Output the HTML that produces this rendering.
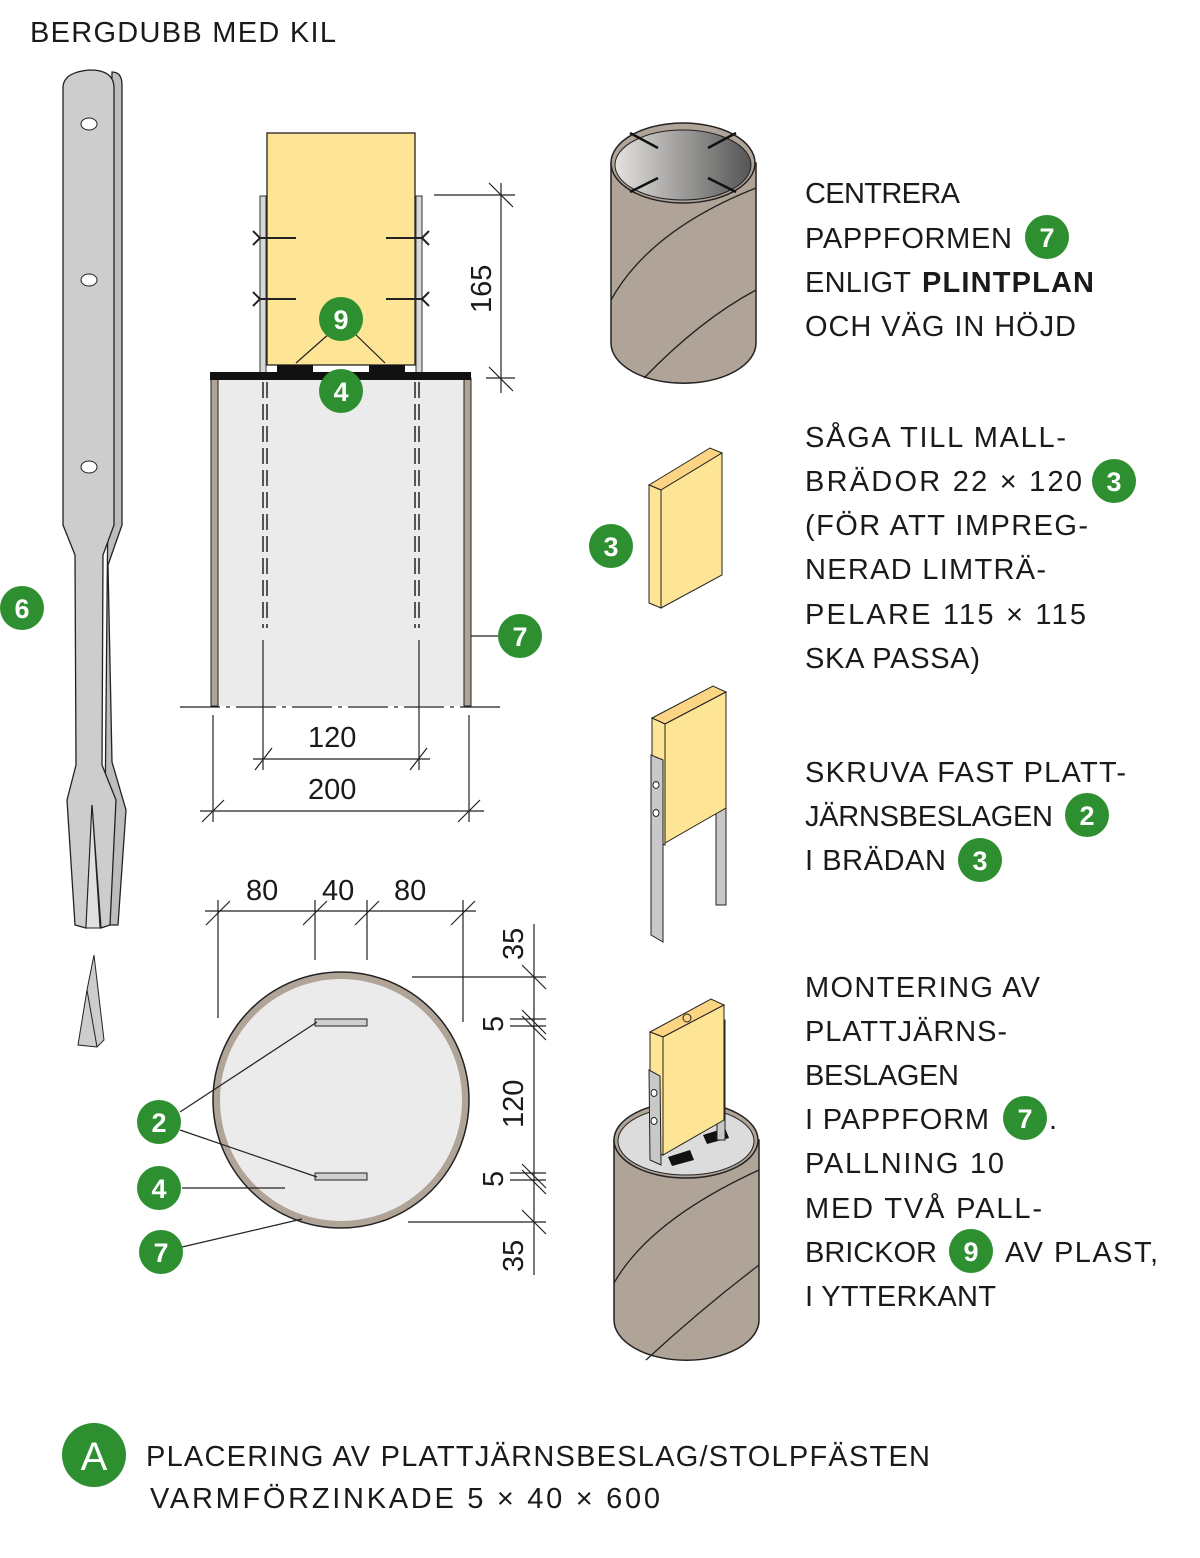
<!DOCTYPE html>
<html><head><meta charset="utf-8"><style>
body{margin:0;background:#fff}
svg{display:block}
text{font-family:"Liberation Sans","DejaVu Sans",sans-serif}
.t{font-size:29px;fill:#1a1a1a}
.d{font-size:29px;fill:#1a1a1a}
.g{fill:#2d8f2f}
.n{font-size:27px;fill:#fff;text-anchor:middle;font-weight:bold}
</style></head><body>
<svg width="1200" height="1558" viewBox="0 0 1200 1558" xmlns="http://www.w3.org/2000/svg">
<defs>
<linearGradient id="gr" x1="0" x2="1"><stop offset="0" stop-color="#e4e2df"/><stop offset="1" stop-color="#555"/></linearGradient>
</defs>
<text x="30" y="42" class="t" textLength="306" lengthAdjust="spacing">BERGDUBB MED KIL</text>

<!-- rock bolt -->
<path d="M112,72 Q122,72 122,85 L122,525 L108,565 L112,762 L126,810 L118,925 L104,925 Z" fill="#bdbdbd" stroke="#222" stroke-width="1.3"/>
<path d="M63,88 Q63,72 90,70 Q114,70 114,88 L114,525 L103,555 L102,765 L116,800 L110,925 L101,928 L92,805 L86,928 L75,925 L67,800 L76,765 L75,555 L63,525 Z" fill="#cdcdcd" stroke="#222" stroke-width="1.3"/>
<path d="M92,805 L100,928 L86,928 Z" fill="#e0e0e0" stroke="#222" stroke-width="1"/>
<ellipse cx="89" cy="124" rx="8" ry="6" fill="#fff" stroke="#222"/><ellipse cx="89" cy="280" rx="8" ry="6" fill="#fff" stroke="#222"/><ellipse cx="89" cy="467" rx="8" ry="6" fill="#fff" stroke="#222"/>
<path d="M78,1045 L87,990 L94,955 L104,1040 L97,1047 Z" fill="#cdcdcd" stroke="#222"/>
<path d="M87,990 L97,1047" stroke="#222"/>
<circle cx="22" cy="608" r="22" class="g"/><text x="22" y="618" class="n">6</text>

<!-- section view -->
<rect x="211" y="378" width="260" height="328" fill="#ebebeb"/>
<rect x="211" y="378" width="7" height="328" fill="#b0a498" stroke="#222"/>
<rect x="464" y="378" width="7" height="328" fill="#b0a498" stroke="#222"/>
<rect x="267" y="133" width="148" height="232" fill="#fde595" stroke="#222" stroke-width="1.3"/>
<rect x="260" y="196" width="6" height="182" fill="#d8d8d8" stroke="#333"/>
<rect x="416" y="196" width="6" height="182" fill="#d8d8d8" stroke="#333"/>
<rect x="210" y="372" width="261" height="8" fill="#111"/>
<rect x="277" y="365" width="36" height="8" fill="#111"/><rect x="369" y="365" width="36" height="8" fill="#111"/>
<g stroke="#222" stroke-width="2" fill="none">
<line x1="260" y1="238" x2="296" y2="238"/><line x1="260" y1="299" x2="296" y2="299"/>
<line x1="386" y1="238" x2="422" y2="238"/><line x1="386" y1="299" x2="422" y2="299"/>
<path d="M253,231 L260,238 L253,245 M253,292 L260,299 L253,306 M429,231 L422,238 L429,245 M429,292 L422,299 L429,306"/>
</g>
<g stroke="#555" stroke-width="2" stroke-dasharray="16,6">
<line x1="263" y1="382" x2="263" y2="628"/><line x1="419" y1="382" x2="419" y2="628"/>
<line x1="267" y1="382" x2="267" y2="628"/><line x1="415" y1="382" x2="415" y2="628"/>
</g>
<g stroke="#222" stroke-width="1.2" fill="none">
<line x1="296" y1="363" x2="330" y2="333"/><line x1="385" y1="363" x2="354" y2="333"/>
<line x1="180" y1="707" x2="500" y2="707" stroke-dasharray="40,6,4,6"/>
<line x1="434" y1="195" x2="515" y2="195"/><line x1="501" y1="183" x2="501" y2="393"/>
<line x1="489" y1="183" x2="513" y2="207"/><line x1="489" y1="367" x2="513" y2="391"/><line x1="486" y1="378" x2="515" y2="378"/>
<line x1="263" y1="640" x2="263" y2="770"/><line x1="419" y1="640" x2="419" y2="770"/>
<line x1="253" y1="759" x2="430" y2="759"/><path d="M255,770 L272,748 M410,770 L427,748"/>
<line x1="213" y1="715" x2="213" y2="822"/><line x1="469" y1="715" x2="469" y2="822"/>
<line x1="200" y1="811" x2="484" y2="811"/><path d="M202,822 L224,800 M458,822 L480,800"/>
<line x1="471" y1="636" x2="498" y2="636"/>
</g>
<text x="308" y="747" class="d">120</text><text x="308" y="799" class="d">200</text>
<text transform="translate(491,313) rotate(-90)" class="d">165</text>
<circle cx="341" cy="319" r="22" class="g"/><text x="341" y="329" class="n">9</text>
<circle cx="341" cy="391" r="22" class="g"/><text x="341" y="401" class="n">4</text>
<circle cx="520" cy="636" r="22" class="g"/><text x="520" y="646" class="n">7</text>

<!-- plan view -->
<circle cx="341" cy="1100" r="128" fill="#b0a498" stroke="#222" stroke-width="1.5"/>
<circle cx="341" cy="1100" r="121" fill="#ebebeb"/>
<rect x="315" y="1019" width="52" height="7" fill="#cfcfcf" stroke="#222"/>
<rect x="315" y="1173" width="52" height="7" fill="#cfcfcf" stroke="#222"/>
<g stroke="#222" stroke-width="1.2" fill="none">
<line x1="205" y1="911" x2="476" y2="911"/>
<line x1="218" y1="900" x2="218" y2="1018"/><line x1="315" y1="900" x2="315" y2="960"/><line x1="367" y1="900" x2="367" y2="960"/><line x1="463" y1="900" x2="463" y2="1022"/>
<path d="M206,925 L230,901 M303,925 L327,901 M355,925 L379,901 M451,925 L475,901"/>
<line x1="534" y1="924" x2="534" y2="1275"/>
<line x1="412" y1="977" x2="546" y2="977"/><line x1="510" y1="1019" x2="546" y2="1019"/><line x1="510" y1="1026" x2="546" y2="1026"/>
<line x1="510" y1="1173" x2="546" y2="1173"/><line x1="510" y1="1180" x2="546" y2="1180"/><line x1="408" y1="1222" x2="546" y2="1222"/>
<path d="M522,965 L546,989 M522,1010 L546,1034 M522,1016 L546,1040 M522,1164 L546,1188 M522,1170 L546,1194 M522,1210 L546,1234"/>
<line x1="180" y1="1112" x2="317" y2="1022"/><line x1="180" y1="1130" x2="317" y2="1177"/>
<line x1="182" y1="1188" x2="285" y2="1188"/><line x1="182" y1="1247" x2="302" y2="1219"/>
</g>
<text x="246" y="900" class="d">80</text><text x="322" y="900" class="d">40</text><text x="394" y="900" class="d">80</text>
<text transform="translate(523,960) rotate(-90)" class="d">35</text>
<text transform="translate(503,1032) rotate(-90)" class="d">5</text>
<text transform="translate(523,1128) rotate(-90)" class="d">120</text>
<text transform="translate(503,1187) rotate(-90)" class="d">5</text>
<text transform="translate(523,1272) rotate(-90)" class="d">35</text>
<circle cx="159" cy="1122" r="22" class="g"/><text x="159" y="1132" class="n">2</text>
<circle cx="159" cy="1188" r="22" class="g"/><text x="159" y="1198" class="n">4</text>
<circle cx="161" cy="1252" r="22" class="g"/><text x="161" y="1262" class="n">7</text>

<!-- cylinder 1 -->
<path d="M611,163 L611,343 A72,40 0 0 0 756,343 L756,163 Z" fill="#b0a498" stroke="#222" stroke-width="1.5"/>
<path d="M611,300 Q650,230 756,188 M644,378 Q700,320 756,290" stroke="#222" fill="none" stroke-width="1.3"/>
<ellipse cx="683" cy="163" rx="72" ry="40" fill="#b0a498" stroke="#222" stroke-width="1.5"/>
<ellipse cx="683" cy="165" rx="68" ry="35" fill="url(#gr)" stroke="#222"/>
<path d="M630,133 L658,148 M736,133 L708,148 M630,192 L658,178 M736,192 L708,178" stroke="#111" stroke-width="2.5"/>

<!-- board 1 -->
<path d="M649,485 L710,448 L722,453 L661,490 Z" fill="#fcd584" stroke="#222"/>
<path d="M649,485 L661,490 L661,608 L649,603 Z" fill="#fde595" stroke="#222"/>
<path d="M661,490 L722,453 L722,575 L661,608 Z" fill="#fde595" stroke="#222"/>
<circle cx="611" cy="546" r="22" class="g"/><text x="611" y="556" class="n">3</text>

<!-- board 2 with irons -->
<rect x="716" y="715" width="10" height="190" fill="#c8c8c8" stroke="#222"/>
<path d="M652,718 L713,686 L726,692 L665,724 Z" fill="#fcd584" stroke="#222"/>
<path d="M652,718 L665,724 L665,845 L652,840 Z" fill="#fde595" stroke="#222"/>
<path d="M665,724 L726,692 L726,808 L665,843 Z" fill="#fde595" stroke="#222"/>
<path d="M651,755 L651,935 L663,942 L663,760 Z" fill="#c8c8c8" stroke="#222"/>
<ellipse cx="656" cy="785" rx="3" ry="3.5" fill="#fff" stroke="#222"/><ellipse cx="656" cy="813" rx="3" ry="3.5" fill="#fff" stroke="#222"/>

<!-- cylinder 2 -->
<path d="M614,1140 L614,1320 A72,40 0 0 0 759,1320 L759,1140 Z" fill="#b0a498" stroke="#222" stroke-width="1.5"/>
<path d="M614,1283 Q650,1220 759,1170 M646,1360 Q700,1310 759,1265" stroke="#222" fill="none" stroke-width="1.3"/>
<ellipse cx="686" cy="1140" rx="72" ry="38" fill="#b0a498" stroke="#222" stroke-width="1.5"/>
<ellipse cx="686" cy="1141" rx="68" ry="34" fill="#dcdcdc" stroke="#222"/>
<path d="M668,1157 L690,1150 L694,1160 L672,1166 Z M703,1135 L725,1128 L729,1138 L707,1144 Z" fill="#111"/>
<rect x="717" y="1020" width="8" height="120" fill="#c8c8c8" stroke="#222"/>
<path d="M650,1032 L711,999 L724,1005 L663,1037 Z" fill="#fcd584" stroke="#222"/>
<path d="M650,1032 L663,1037 L663,1155 L650,1150 Z" fill="#fde595" stroke="#222"/>
<path d="M663,1037 L724,1005 L724,1120 L663,1155 Z" fill="#fde595" stroke="#222"/>
<path d="M649,1070 L650,1160 L661,1165 L660,1076 Z" fill="#c8c8c8" stroke="#222"/>
<ellipse cx="654" cy="1093" rx="3" ry="3.5" fill="#fff" stroke="#222"/><ellipse cx="654" cy="1121" rx="3" ry="3.5" fill="#fff" stroke="#222"/>
<circle cx="687" cy="1018" r="4" fill="none" stroke="#222"/>

<!-- right texts -->
<g class="t">
<text x="805" y="203" class="t" textLength="155" lengthAdjust="spacing">CENTRERA</text>
<text x="805" y="248" class="t" textLength="207" lengthAdjust="spacing">PAPPFORMEN</text>
<text x="805" y="292" class="t" textLength="106" lengthAdjust="spacing">ENLIGT</text>
<text x="922" y="292" class="t" font-weight="bold" textLength="172" lengthAdjust="spacing">PLINTPLAN</text>
<text x="805" y="336" class="t" textLength="271" lengthAdjust="spacing">OCH VÄG IN HÖJD</text>
<text x="805" y="447" class="t" textLength="261" lengthAdjust="spacing">SÅGA TILL MALL-</text>
<text x="805" y="491" class="t" textLength="277" lengthAdjust="spacing">BRÄDOR 22 × 120</text>
<text x="805" y="535" class="t" textLength="283" lengthAdjust="spacing">(FÖR ATT IMPREG-</text>
<text x="805" y="579" class="t" textLength="241" lengthAdjust="spacing">NERAD LIMTRÄ-</text>
<text x="805" y="624" class="t" textLength="281" lengthAdjust="spacing">PELARE 115 × 115</text>
<text x="805" y="668" class="t" textLength="175" lengthAdjust="spacing">SKA PASSA)</text>
<text x="805" y="782" class="t" textLength="321" lengthAdjust="spacing">SKRUVA FAST PLATT-</text>
<text x="805" y="826" class="t" textLength="248" lengthAdjust="spacing">JÄRNSBESLAGEN</text>
<text x="805" y="870" class="t" textLength="141" lengthAdjust="spacing">I BRÄDAN</text>
<text x="805" y="997" class="t" textLength="235" lengthAdjust="spacing">MONTERING AV</text>
<text x="805" y="1041" class="t" textLength="202" lengthAdjust="spacing">PLATTJÄRNS-</text>
<text x="805" y="1085" class="t" textLength="154" lengthAdjust="spacing">BESLAGEN</text>
<text x="805" y="1129" class="t" textLength="184" lengthAdjust="spacing">I PAPPFORM</text>
<text x="1049" y="1129" class="t">.</text>
<text x="805" y="1173" class="t" textLength="199" lengthAdjust="spacing">PALLNING 10</text>
<text x="805" y="1218" class="t" textLength="237" lengthAdjust="spacing">MED TVÅ PALL-</text>
<text x="805" y="1262" class="t" textLength="132" lengthAdjust="spacing">BRICKOR</text>
<text x="1005" y="1262" class="t" textLength="153" lengthAdjust="spacing">AV PLAST,</text>
<text x="805" y="1306" class="t" textLength="191" lengthAdjust="spacing">I YTTERKANT</text>
</g>
<circle cx="1047" cy="237" r="22" class="g"/><text x="1047" y="247" class="n">7</text>
<circle cx="1114" cy="481" r="22" class="g"/><text x="1114" y="491" class="n">3</text>
<circle cx="1087" cy="815" r="22" class="g"/><text x="1087" y="825" class="n">2</text>
<circle cx="980" cy="860" r="22" class="g"/><text x="980" y="870" class="n">3</text>
<circle cx="1025" cy="1118" r="22" class="g"/><text x="1025" y="1128" class="n">7</text>
<circle cx="971" cy="1251" r="22" class="g"/><text x="971" y="1261" class="n">9</text>

<!-- bottom -->
<circle cx="94" cy="1455" r="32" class="g"/><text x="94" y="1470" class="n" style="font-size:40px;font-weight:normal">A</text>
<text x="146" y="1466" class="t" textLength="784" lengthAdjust="spacing">PLACERING AV PLATTJÄRNSBESLAG/STOLPFÄSTEN</text>
<text x="150" y="1508" class="t" textLength="510" lengthAdjust="spacing">VARMFÖRZINKADE 5 × 40 × 600</text>
</svg>
</body></html>
